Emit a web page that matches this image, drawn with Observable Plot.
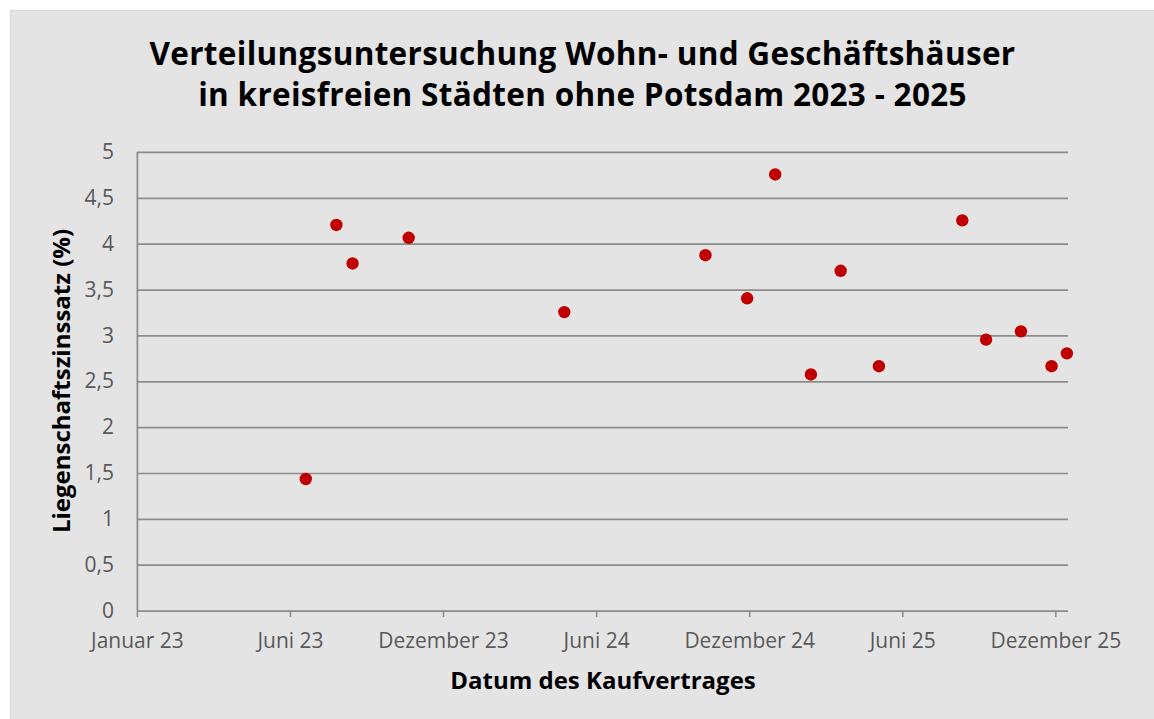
<!DOCTYPE html>
<html>
<head>
<meta charset="utf-8">
<script src="https://cdn.jsdelivr.net/npm/d3@7"></script>
<script src="https://cdn.jsdelivr.net/npm/@observablehq/plot@0.6"></script>
<style>
  html, body { margin: 0; padding: 0; background: #ffffff; }
  #frame {
    position: absolute; left: 10px; top: 10px; width: 1144px; height: 709px;
    background: #e4e4e4; box-sizing: border-box;
    border-left: 1px solid #d6d6d6; border-top: 1px solid #d6d6d6;
    font-family: "Open Sans", sans-serif;
  }
  #title {
    position: absolute; left: 0; top: 20.5px; width: 100%; text-align: center;
    font-size: 31.5px; font-weight: 700; line-height: 41px; letter-spacing: 0.3px; color: #000;
  }
  #xlabel {
    position: absolute; left: 0; top: 653px; width: 1184px; text-align: center;
    font-size: 24px; font-weight: 700; line-height: 32px; color: #000;
  }
  #ylabel {
    position: absolute; left: 49.5px; top: 369.5px; white-space: nowrap;
    transform: translate(-50%, -50%) rotate(-90deg);
    font-size: 24px; font-weight: 700; line-height: 32px; color: #000;
  }
  #chart { position: absolute; left: 0; top: 120px; }
</style>
</head>
<body>
<div id="frame">
  <div id="title">Verteilungsuntersuchung Wohn- und Geschäftshäuser<br>in kreisfreien Städten ohne Potsdam 2023 - 2025</div>
  <div id="chart"></div>
  <div id="ylabel">Liegenschaftszinssatz (%)</div>
  <div id="xlabel">Datum des Kaufvertrages</div>
</div>
<script>
// Data
const saleDates = [
  "2023-07-18", "2023-08-23", "2023-09-11", "2023-11-16",
  "2024-05-17", "2024-10-30", "2024-12-18", "2025-01-20",
  "2025-03-03", "2025-04-07", "2025-05-22", "2025-08-28",
  "2025-09-25", "2025-11-05", "2025-12-11", "2025-12-29"
];
const rates = [
  1.44, 4.21, 3.79, 4.07,
  3.26, 3.88, 3.41, 4.76,
  2.58, 3.71, 2.67, 4.26,
  2.96, 3.05, 2.67, 2.81
];
const xDomain = ["2023-01-01", "2025-12-31"];
const xTickDates = ["2023-01-01", "2023-06-30", "2023-12-27", "2024-06-24", "2024-12-21", "2025-06-19", "2025-12-16"];
const xTickLabels = ["Januar 23", "Juni 23", "Dezember 23", "Juni 24", "Dezember 24", "Juni 25", "Dezember 25"];
const yTicks = [0, 0.5, 1, 1.5, 2, 2.5, 3, 3.5, 4, 4.5, 5];
const yTickLabels = ["0", "0,5", "1", "1,5", "2", "2,5", "3", "3,5", "4", "4,5", "5"];

const parse = s => new Date(s + "T00:00:00Z");
const points = saleDates.map((d, i) => ({date: parse(d), value: rates[i]}));
const tickDates = xTickDates.map(parse);
const xLabelMap = new Map(tickDates.map((d, i) => [+d, xTickLabels[i]]));
const yLabelMap = new Map(yTicks.map((v, i) => [v, yTickLabels[i]]));

const gridColor = "#8c8c8c";
const textColor = "#595959";

const chart = Plot.plot({
  width: 1144,
  height: 589,
  marginLeft: 126,
  marginRight: 86,
  marginTop: 21,
  marginBottom: 109,
  style: {fontFamily: "Open Sans, sans-serif", fontSize: "21px", background: "transparent", color: textColor, overflow: "visible"},
  x: {type: "utc", domain: xDomain.map(parse)},
  y: {domain: [0, 5]},
  marks: [
    Plot.gridY(yTicks.filter(v => v > 0), {stroke: gridColor, strokeOpacity: 1, strokeWidth: 1.75}),
    Plot.ruleX([parse(xDomain[0])], {stroke: gridColor, strokeWidth: 1.75}),
    Plot.ruleY([0], {stroke: gridColor, strokeWidth: 1.75}),
    Plot.axisY({ticks: yTicks, tickFormat: v => yLabelMap.get(v), tickSize: 0, tickPadding: 23.5, label: null, fill: textColor}),
    Plot.axisX({ticks: tickDates, tickFormat: d => xLabelMap.get(+d), tickSize: 6.5, tickPadding: 16, label: null, stroke: gridColor, strokeWidth: 1.5, fill: textColor}),
    Plot.dot(points, {x: "date", y: "value", r: 6.2, fill: "#c00000", stroke: "none"})
  ]
});
document.getElementById("chart").appendChild(chart);
</script>
</body>
</html>
